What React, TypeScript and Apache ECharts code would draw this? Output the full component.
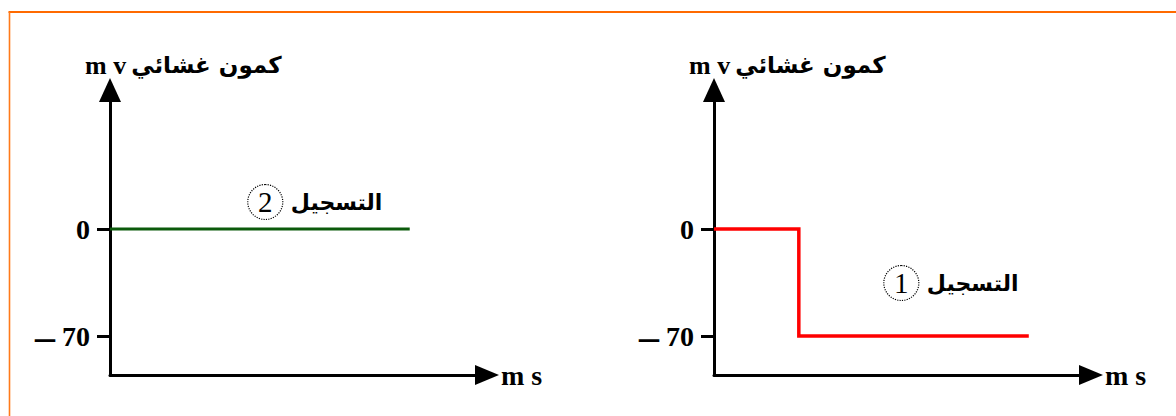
import React, { useEffect, useRef } from "react";
import * as echarts from "echarts";

// Membrane potential (mV) against time (ms) for two recordings
const timeLeft = [0, 7.95];
const potentialLeft = [0, 0];
const timeRight = [0, 2.25, 2.25, 8.35];
const potentialRight = [0, 0, -70, -70];

const yTickValues = [0, -70];
const yTickLabels = ["0", "– 70"];
const yTitle = "كمون غشائي";
const yUnit = "m v";
const xUnit = "m s";
const recordingName = "التسجيل";
const recordingNumbers = ["2", "1"];

const SERIF = "'Liberation Serif', 'Times New Roman', serif";
const ARABIC = "'DejaVu Sans', sans-serif";

const X_MAX = 10;
const Y_MIN = -95.5;
const Y_MAX = 91;

function makeXAxis(gridIndex: number) {
  return {
    type: "value",
    gridIndex,
    min: 0,
    max: X_MAX,
    name: xUnit,
    nameLocation: "end",
    nameGap: 14,
    nameTextStyle: {
      fontFamily: SERIF,
      fontSize: 28,
      fontWeight: "bold",
      color: "#000",
      verticalAlign: "middle",
    },
    axisLine: {
      show: true,
      onZero: false,
      symbol: ["none", "triangle"],
      symbolSize: [20, 24],
      lineStyle: { color: "#000", width: 3 },
    },
    axisTick: { show: false },
    axisLabel: { show: false },
    splitLine: { show: false },
  };
}

function makeYAxis(gridIndex: number) {
  return {
    type: "value",
    gridIndex,
    min: Y_MIN,
    max: Y_MAX,
    axisLine: {
      show: true,
      onZero: false,
      symbol: ["none", "triangle"],
      symbolSize: [22, 24],
      lineStyle: { color: "#000", width: 3 },
    },
    axisTick: {
      show: true,
      inside: false,
      length: 13,
      customValues: yTickValues,
      lineStyle: { color: "#000", width: 3 },
    },
    axisLabel: {
      show: true,
      customValues: yTickValues,
      margin: 20,
      fontFamily: SERIF,
      fontSize: 28,
      fontWeight: "bold",
      color: "#000",
      formatter: (v: number) => {
        const s = yTickLabels[yTickValues.indexOf(v)] ?? "";
        return s.replace("–", "{d|–}");
      },
      rich: {
        d: {
          fontFamily: SERIF,
          fontSize: 40,
          fontWeight: "bold",
          color: "#000",
        },
      },
    },
    splitLine: { show: false },
  };
}

function recordingLabel(num: string) {
  return {
    show: true,
    position: "inside",
    formatter: `{c|${num}}{t|${recordingName}}`,
    rich: {
      c: {
        fontFamily: SERIF,
        fontSize: 29,
        color: "#000",
        width: 35,
        height: 35,
        lineHeight: 35,
        align: "center",
        borderColor: "#000",
        borderWidth: 1.2,
        borderType: "dotted",
        borderRadius: 18,
      },
      t: {
        fontFamily: ARABIC,
        fontSize: 22,
        fontWeight: "bold",
        color: "#000",
        padding: [0, 0, 0, 8],
      },
    },
  };
}

function makeTitle(left: number) {
  return {
    left,
    top: 47,
    text: `{u|${yUnit}} {a|${yTitle}}`,
    textStyle: {
      rich: {
        u: {
          fontFamily: SERIF,
          fontSize: 26,
          fontWeight: "bold",
          color: "#000",
        },
        a: {
          fontFamily: ARABIC,
          fontSize: 23,
          fontWeight: "bold",
          color: "#000",
        },
      },
    },
  };
}

export default function App() {
  const ref = useRef<HTMLDivElement>(null);

  useEffect(() => {
    if (!ref.current) return;
    const chart = echarts.init(ref.current, undefined, { renderer: "svg" });
    chart.setOption({
      animation: false,
      backgroundColor: "#fff",
      title: [makeTitle(80), makeTitle(684)],
      grid: [
        { left: 110, top: 90, width: 377, height: 285 },
        { left: 714, top: 90, width: 377, height: 285 },
      ],
      xAxis: [makeXAxis(0), makeXAxis(1)],
      yAxis: [makeYAxis(0), makeYAxis(1)],
      series: [
        {
          type: "line",
          xAxisIndex: 0,
          yAxisIndex: 0,
          data: timeLeft.map((t, i) => [t, potentialLeft[i]]),
          symbol: "none",
          lineStyle: { color: "#0b5a0b", width: 3 },
          markPoint: {
            symbol: "rect",
            symbolSize: 1,
            itemStyle: { color: "transparent" },
            label: recordingLabel(recordingNumbers[0]),
            data: [{ coord: [5.44, 17.7] }],
          },
          z: 3,
        },
        {
          type: "line",
          xAxisIndex: 1,
          yAxisIndex: 1,
          data: timeRight.map((t, i) => [t, potentialRight[i]]),
          symbol: "none",
          lineStyle: { color: "#ff0000", width: 3.5, join: "miter" },
          markPoint: {
            symbol: "rect",
            symbolSize: 1,
            itemStyle: { color: "transparent" },
            label: recordingLabel(recordingNumbers[1]),
            data: [{ coord: [6.29, -35.3] }],
          },
          z: 3,
        },
      ],
      graphic: [
        {
          type: "line",
          shape: { x1: 8.5, y1: 12, x2: 1176, y2: 12 },
          style: { stroke: "#ff6a00", lineWidth: 2.2 },
        },
        {
          type: "line",
          shape: { x1: 9.5, y1: 12, x2: 9.5, y2: 416 },
          style: { stroke: "#ff7a1a", lineWidth: 1.6 },
        },
      ],
    });
    return () => chart.dispose();
  }, []);

  return (
    <div
      ref={ref}
      style={{ position: "fixed", left: 0, top: 0, width: 1176, height: 416 }}
    />
  );
}
